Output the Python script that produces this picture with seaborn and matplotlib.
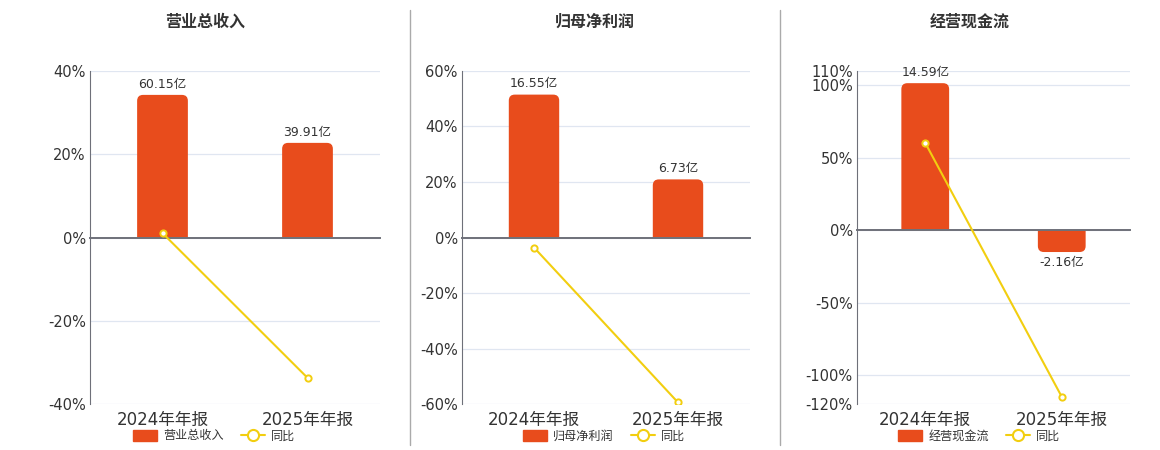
import numpy as np
import pandas as pd
import matplotlib
matplotlib.use("Agg")
import matplotlib.pyplot as plt
from matplotlib.lines import Line2D
from matplotlib.patches import Patch, PathPatch
from matplotlib.path import Path
import seaborn as sns

sns.set_style("white")
plt.rcParams['font.family'] = ['DejaVu Sans', 'Noto Sans CJK SC']

# data
periods = ['2024年年报', '2025年年报']
titles = ['营业总收入', '归母净利润', '经营现金流']
values = [[60.15, 39.91], [16.55, 6.73], [14.59, -2.16]]   # 亿
yoy = [[1.05, -33.65], [-3.6, -59.33], [60.2, -114.8]]      # %
pct_limits = [(-40, 40), (-60, 60), (-120, 110)]
pct_ticks = [[-40, -20, 0, 20, 40],
             [-60, -40, -20, 0, 20, 40, 60],
             [-120, -100, -50, 0, 50, 100, 110]]
# bar top in percent units (sets bar axis scale)
bar_top_pct = [34.2, 51.4, 101.4]

BAR = '#E84C1C'
LINE = '#F2CE10'
AXIS = '#6E7079'
GRID = '#E0E6F1'


def rounded_bar(x0, w, h, rx, ry):
    """Bar path from 0 to h with rounded corners at the far end."""
    s = 1 if h >= 0 else -1
    x1 = x0 + w
    yr = h - s * ry
    verts = [(x0, 0), (x0, yr), (x0, h), (x0 + rx, h), (x1 - rx, h),
             (x1, h), (x1, yr), (x1, 0), (x0, 0)]
    codes = [Path.MOVETO, Path.LINETO, Path.CURVE3, Path.CURVE3, Path.LINETO,
             Path.CURVE3, Path.CURVE3, Path.LINETO, Path.CLOSEPOLY]
    return Path(verts, codes)


fig = plt.figure(figsize=(11.6, 4.5), dpi=100)

axes_px = [(90, 380), (462, 750), (857, 1130)]
panel_px = [(0, 410), (410, 780), (780, 1160)]
top_px, bot_px = 70.7, 404.3

for i in range(3):
    l, r = axes_px[i]
    rect = [l / 1160, 1 - bot_px / 450, (r - l) / 1160, (bot_px - top_px) / 450]
    ax2 = fig.add_axes(rect, label=f'bars{i}')   # bars
    ax = fig.add_axes(rect, label=f'pct{i}')     # percent line, drawn on top
    ax.patch.set_visible(False)

    k = values[i][0] / bar_top_pct[i]
    lo, hi = pct_limits[i]

    df = pd.DataFrame({'period': periods, 'value': values[i], 'yoy': yoy[i]})
    sns.barplot(data=df, x='period', y='value', color=BAR, width=0.35,
                saturation=1, ax=ax2, zorder=2)
    ax2.set_ylim(lo * k, hi * k)
    ax2.set_xlim(-0.5, 1.5)

    # swap each bar for a copy with rounded far-end corners
    ypp = (hi - lo) * k / (bot_px - top_px)
    xpp = 2.0 / (r - l)
    for p in ax2.patches[:]:
        p.set_visible(False)
        path = rounded_bar(p.get_x(), p.get_width(), p.get_height(),
                           6 * xpp, 6 * ypp)
        ax2.add_patch(PathPatch(path, fc=BAR, ec='none', zorder=2))

    ax2.set_yticks([t * k for t in pct_ticks[i]])
    ax2.set_yticklabels([])
    ax2.tick_params(axis='y', length=0)
    ax2.grid(axis='y', color=GRID, lw=0.9, zorder=0)
    ax2.set_axisbelow(True)
    for s in ['top', 'right']:
        ax2.spines[s].set_visible(False)
    ax2.spines['left'].set_color(AXIS)
    ax2.spines['bottom'].set_position(('data', 0))
    ax2.spines['bottom'].set_color(AXIS)
    ax2.spines['bottom'].set_linewidth(1.4)
    ax2.spines['bottom'].set_zorder(3)
    ax2.set_xticks([0.5, 1.5])
    ax2.set_xticklabels([])
    ax2.tick_params(axis='x', length=5, color=AXIS, direction='out')
    ax2.set_xlabel('')
    ax2.set_ylabel('')
    ax2.bar_label(ax2.containers[0], labels=[f'{v}亿' for v in values[i]],
                  padding=3, fontsize=9, color='#333333')

    sns.lineplot(x=[0, 1], y=df['yoy'], ax=ax, color=LINE, lw=1.5,
                 marker='o', markersize=4.5, markerfacecolor='white',
                 markeredgecolor=LINE, markeredgewidth=1.4)
    ax.set_ylim(lo, hi)
    ax.set_xlim(-0.5, 1.5)
    for s in ax.spines.values():
        s.set_visible(False)
    ax.set_yticks(pct_ticks[i])
    ax.set_yticklabels([f'{t}%' for t in pct_ticks[i]])
    ax.tick_params(axis='y', length=0, labelsize=10.5, labelcolor='#333333', pad=3)
    ax.set_ylabel('')
    ax.set_xticks([0, 1])
    ax.set_xticklabels(periods)
    ax.tick_params(axis='x', length=0, labelsize=12, labelcolor='#333333', pad=5)

    pl, pr = panel_px[i]
    cx = (pl + pr) / 2 / 1160
    fig.text(cx, 1 - 22 / 450, titles[i], ha='center', va='center',
             fontsize=11.5, fontweight='bold', color='#333333')

    handles = [Patch(facecolor=BAR, edgecolor=BAR),
               Line2D([], [], color=LINE, lw=1.5, marker='o', markersize=8,
                      markerfacecolor='white', markeredgecolor=LINE, markeredgewidth=1.5)]
    fig.legend(handles, [titles[i], '同比'], loc='center',
               bbox_to_anchor=(cx + 9 / 1160, 1 - 436 / 450), ncol=2, frameon=False,
               fontsize=8.7, handlelength=2.0, handleheight=1.0,
               columnspacing=1.4, handletextpad=0.5, labelcolor='#333333')

for x in (410, 780):
    fig.add_artist(Line2D([x / 1160] * 2, [1 - 445 / 450, 1 - 10 / 450],
                          color='#AAAAAA', lw=1))

fig.savefig('out.png', dpi=100, facecolor='white')
